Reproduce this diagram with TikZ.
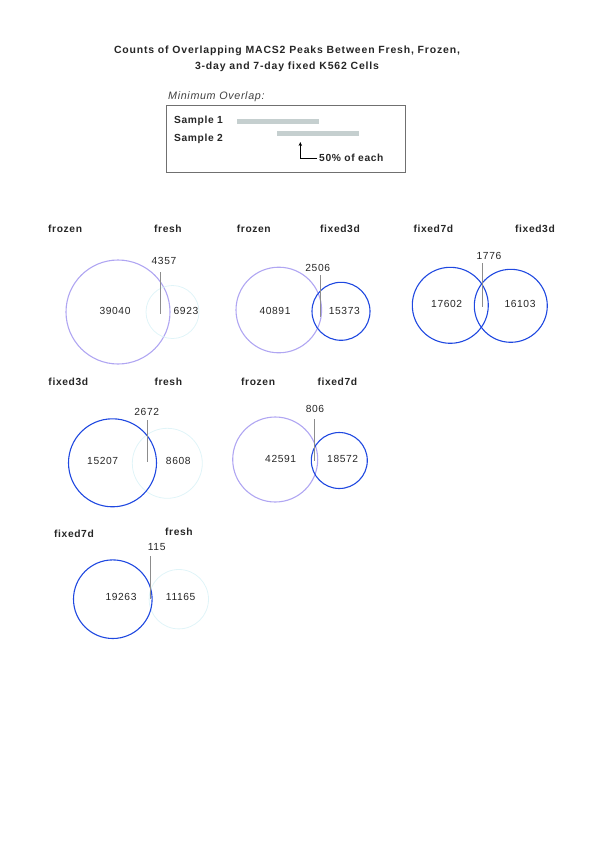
\documentclass[tikz,border=0pt]{standalone}
\usepackage{fontspec}
\setmainfont{Liberation Sans}[LetterSpace=6]
\usetikzlibrary{arrows.meta}

\definecolor{frozencol}{HTML}{B0A6F2}
\definecolor{fixcol}{HTML}{1F48E0}
\definecolor{freshcol}{HTML}{E0F4F8}
\definecolor{barcol}{HTML}{C5CFCF}
\definecolor{tickcol}{HTML}{8C8C8C}
\definecolor{boxcol}{HTML}{707070}

\tikzset{
    setname/.style={font=\bfseries\fontsize{10.3}{12}\selectfont, anchor=west, inner sep=0pt, text=black!85},
    count/.style={font=\fontsize{10.3}{12}\selectfont, inner sep=0pt, text=black!85},
    venn/.style={circle, draw, line width=1.1bp, inner sep=0pt, minimum size=#1},
    overlapline/.style={draw=tickcol, line width=0.9bp},
}

\begin{document}
\begin{tikzpicture}[x=1bp, y=-1bp]
        \useasboundingbox (0,0) rectangle (595,842);

        % Title
        \node[font=\bfseries\fontsize{10.5}{16}\selectfont\addfontfeatures{LetterSpace=8}, align=center, text=black!85] (title) at (287,59)
            {Counts of Overlapping MACS2 Peaks Between Fresh, Frozen,\\3-day and 7-day fixed K562 Cells};

        % Legend
        \node[font=\itshape\fontsize{10.8}{12}\selectfont, anchor=west, inner sep=0pt, text=black!75] (minlab) at (168,97) {Minimum Overlap:};
        \node[draw=boxcol, line width=1bp, anchor=north west, minimum width=239bp, minimum height=67bp] (legbox) at (166,105) {};
        \node[setname] (sampleA) at (174,121) {Sample 1};
        \node[setname] (sampleB) at (174,138.5) {Sample 2};
        \draw[barcol, line width=5bp] (237,121.5) -- (319,121.5);
        \draw[barcol, line width=5bp] (277,133.3) -- (359,133.3);
        \node[setname] (each) at (319,158.3) {50\% of each};
        \coordinate (tip) at (300.3,142);
        \draw[-{Stealth[length=4bp,width=3.5bp]}, line width=0.8bp] ([xshift=-2bp]each.west) -| (tip);

        % frozen vs fresh
        \node[venn=104bp, draw=frozencol] (frozenA) at (118,312) {};
        \node[venn=53bp, draw=freshcol, line width=0.8bp] (freshA) at (172.5,312) {};
        \node[setname] (frozenAlab) at (48,229) {frozen};
        \node[setname] (freshAlab) at (154,229) {fresh};
        \node[count] (frozenAn) at (115,311) {39040};
        \node[count] (freshAn) at (186,311) {6923};
        \node[count] (bothAn) at (164,261) {4357};
        \coordinate (bothAtop) at (160,272);
        \coordinate (bothAbot) at (160,314);
        \draw[overlapline] (bothAtop) -- (bothAbot);

        % frozen vs fixed3d
        \node[venn=85.6bp, draw=frozencol] (frozenB) at (278.8,310) {};
        \node[venn=58bp, draw=fixcol] (fixthreeB) at (341,311.3) {};
        \node[setname] (frozenBlab) at (236.7,229) {frozen};
        \node[setname] (fixthreeBlab) at (320,229) {fixed3d};
        \node[count] (frozenBn) at (275,311) {40891};
        \node[count] (fixthreeBn) at (344.3,311) {15373};
        \node[count] (bothBn) at (317.7,268) {2506};
        \coordinate (bothBtop) at (320,275);
        \coordinate (bothBbot) at (320,316.7);
        \draw[overlapline] (bothBtop) -- (bothBbot);

        % fixed7d vs fixed3d
        \node[venn=76bp, draw=fixcol] (fixsevenC) at (450.3,305.3) {};
        \node[venn=73bp, draw=fixcol] (fixthreeC) at (510.8,305.8) {};
        \node[setname] (fixsevenClab) at (413.3,229) {fixed7d};
        \node[setname] (fixthreeClab) at (515,229) {fixed3d};
        \node[count] (fixsevenCn) at (446.7,304.3) {17602};
        \node[count] (fixthreeCn) at (520,304.3) {16103};
        \node[count] (bothCn) at (489,256) {1776};
        \coordinate (bothCtop) at (482.3,263.3);
        \coordinate (bothCbot) at (482.3,306.7);
        \draw[overlapline] (bothCtop) -- (bothCbot);

        % fixed3d vs fresh
        \node[venn=70bp, draw=freshcol, line width=0.8bp] (freshD) at (167.3,463.3) {};
        \node[venn=88bp, draw=fixcol] (fixthreeD) at (112.5,462.8) {};
        \node[setname] (fixthreeDlab) at (48.3,381.7) {fixed3d};
        \node[setname] (freshDlab) at (154.3,381.7) {fresh};
        \node[count] (fixthreeDn) at (102.7,460.7) {15207};
        \node[count] (freshDn) at (178.3,461) {8608};
        \node[count] (bothDn) at (146.7,411.7) {2672};
        \coordinate (bothDtop) at (147.3,420);
        \coordinate (bothDbot) at (147.3,461.7);
        \draw[overlapline] (bothDtop) -- (bothDbot);

        % frozen vs fixed7d
        \node[venn=85bp, draw=frozencol] (frozenE) at (275.2,459.5) {};
        \node[venn=56bp, draw=fixcol] (fixsevenE) at (339.3,460.5) {};
        \node[setname] (frozenElab) at (241,381.7) {frozen};
        \node[setname] (fixsevenElab) at (317.3,381.7) {fixed7d};
        \node[count] (frozenEn) at (280.7,459.3) {42591};
        \node[count] (fixsevenEn) at (342.7,459.3) {18572};
        \node[count] (bothEn) at (315,409.3) {806};
        \coordinate (bothEtop) at (314.3,419.3);
        \coordinate (bothEbot) at (314.3,460.7);
        \draw[overlapline] (bothEtop) -- (bothEbot);

        % fixed7d vs fresh
        \node[venn=59.4bp, draw=freshcol, line width=0.8bp] (freshF) at (178.8,599.2) {};
        \node[venn=78.6bp, draw=fixcol] (fixsevenF) at (112.8,599.2) {};
        \node[setname] (fixsevenFlab) at (54,534.3) {fixed7d};
        \node[setname] (freshFlab) at (165,531.7) {fresh};
        \node[count] (fixsevenFn) at (121,597.3) {19263};
        \node[count] (freshFn) at (180.7,597.3) {11165};
        \node[count] (bothFn) at (156.7,547.3) {115};
        \coordinate (bothFtop) at (150.7,556);
        \coordinate (bothFbot) at (150.7,599.3);
        \draw[overlapline] (bothFtop) -- (bothFbot);

\end{tikzpicture}
\end{document}
